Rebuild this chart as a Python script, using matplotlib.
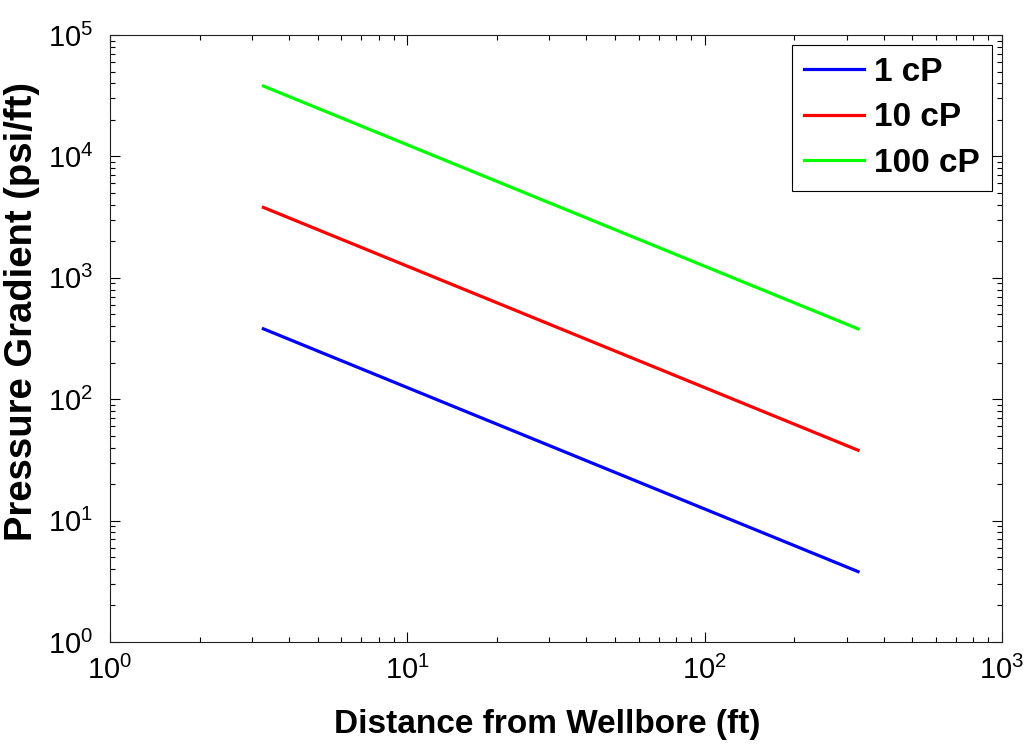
import numpy as np
import matplotlib.pyplot as plt

# distance from wellbore (ft) and pressure gradient (psi/ft)
distance = [3.28, 32.8, 328.0]
grad_1cp = [380.0, 38.0, 3.8]
grad_10cp = [3800.0, 380.0, 38.0]
grad_100cp = [38000.0, 3800.0, 380.0]
labels = ['1 cP', '10 cP', '100 cP']

plt.rcParams['font.family'] = ['Liberation Sans', 'DejaVu Sans']
plt.rcParams['mathtext.fontset'] = 'custom'
plt.rcParams['mathtext.rm'] = 'Liberation Sans'
plt.rcParams['mathtext.it'] = 'Liberation Sans:italic'
plt.rcParams['mathtext.bf'] = 'Liberation Sans:bold'

fig = plt.figure(figsize=(10.29, 7.44), dpi=100)
ax = fig.add_axes([110/1029, 1 - 642/744, (1002-110)/1029, (642-35)/744])

ax.loglog(distance, grad_1cp, color=(0, 0, 1), lw=2.3, label=labels[0])
ax.loglog(distance, grad_10cp, color=(1, 0, 0), lw=2.3, label=labels[1])
ax.loglog(distance, grad_100cp, color=(0, 1, 0), lw=2.3, label=labels[2])

ax.set_xlim(1, 1000)
ax.set_ylim(1, 1e5)
ax.set_xlabel('Distance from Wellbore (ft)', fontsize=24, fontweight='bold')
ax.set_ylabel('Pressure Gradient (psi/ft)', fontsize=27.5, fontweight='bold')
ax.xaxis.set_label_coords(0.49, -0.11)
ax.yaxis.set_label_coords(-0.079, 0.544)
ax.tick_params(which='both', direction='in', top=True, right=True, labelsize=21)
ax.tick_params(which='major', length=7, width=0.8, pad=10)
ax.tick_params(which='minor', length=3.8, width=0.8)
ax.tick_params(axis='y', which='major', pad=12)
for s in ax.spines.values():
    s.set_linewidth(0.8)
    s.set_color('#222222')

leg = ax.legend(loc='upper right', prop={'weight': 'bold', 'size': 24},
                fancybox=False, framealpha=1, edgecolor='black',
                handlelength=1.8, handletextpad=0.3, borderaxespad=0.3,
                borderpad=0.36, labelspacing=0.43)
leg.get_frame().set_linewidth(0.8)

fig.savefig('out.png', dpi=100)
